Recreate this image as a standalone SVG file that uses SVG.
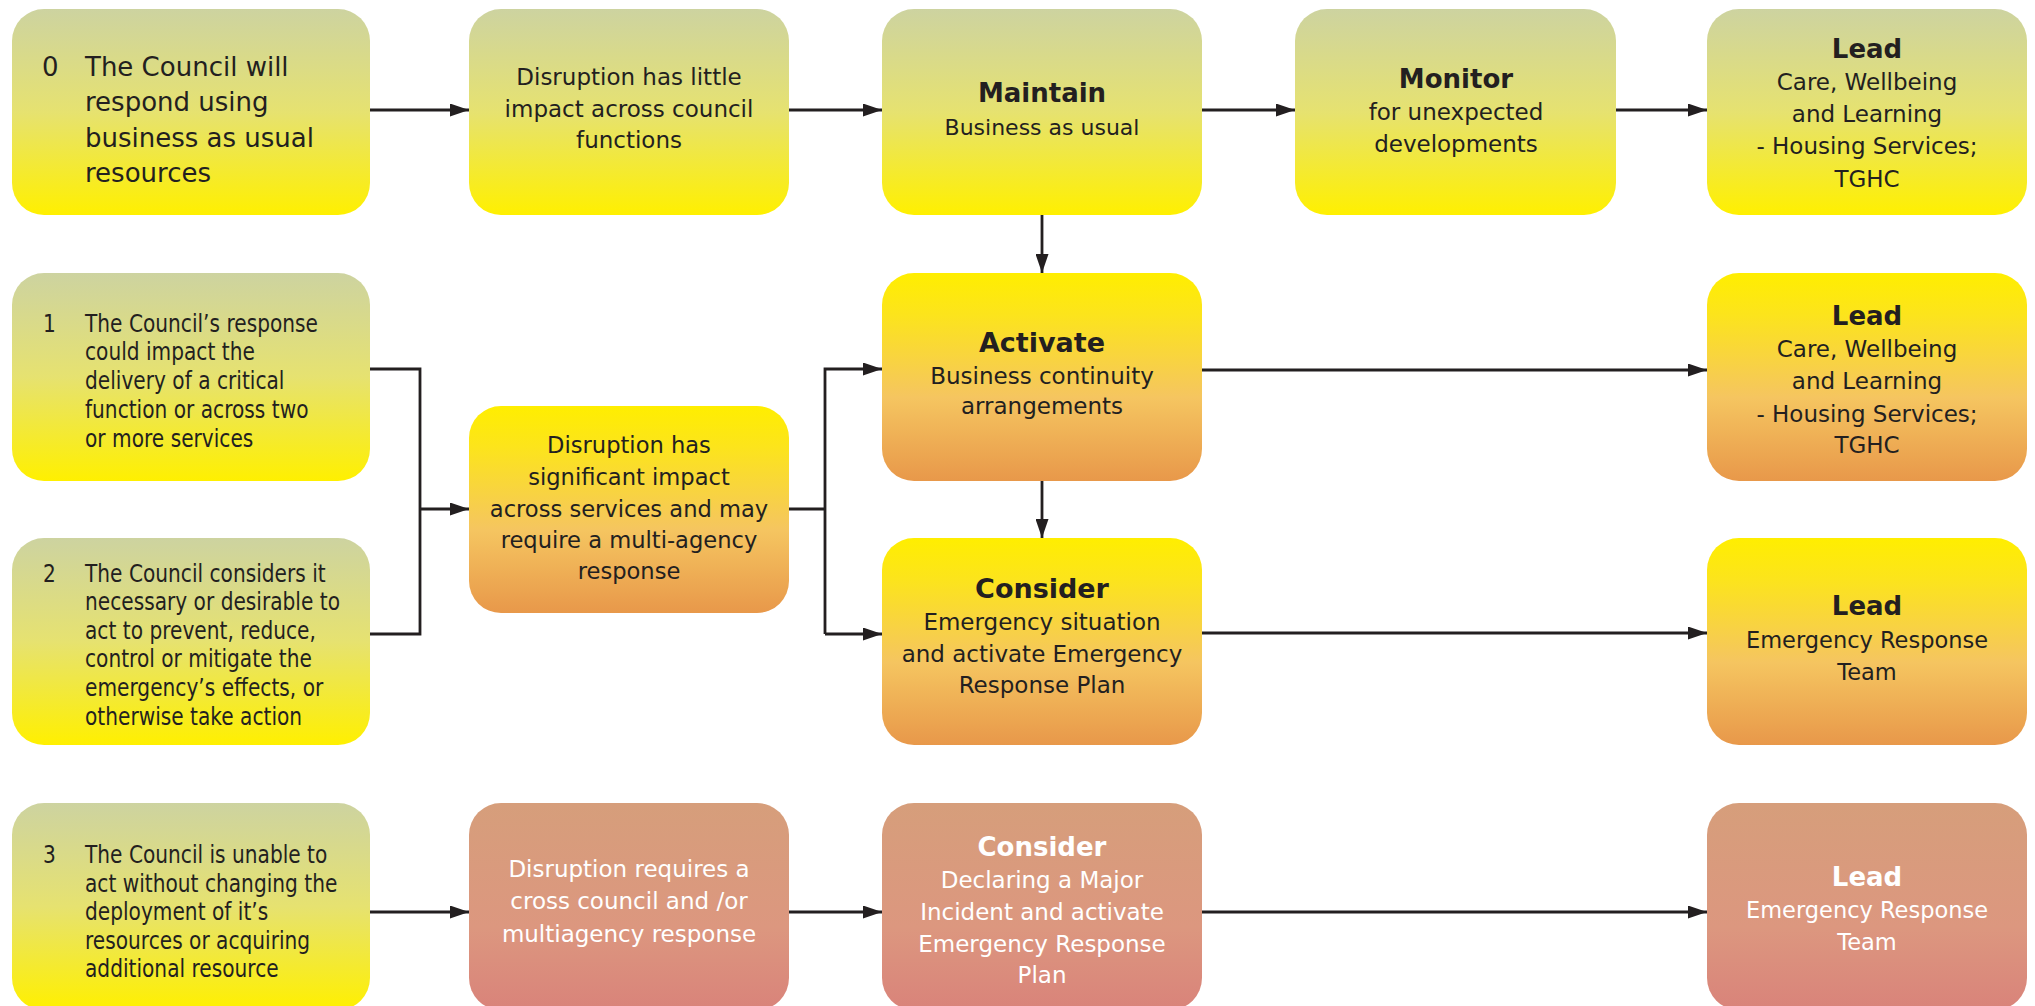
<svg xmlns="http://www.w3.org/2000/svg" width="2035" height="1006" viewBox="0 0 2035 1006">
<style>
.t{font-family:"DejaVu Sans","Liberation Sans",sans-serif;fill:#231F20}
.w{fill:#FFFFFF}
.b{font-weight:bold}
.c{text-anchor:middle}
.ln{stroke:#231F20;stroke-width:2.8;fill:none}
.box{stroke:none}
</style>
<defs>
<linearGradient id="gG" x1="0" y1="0" x2="0" y2="1">
<stop offset="0" stop-color="#CDD3A0"/>
<stop offset="0.5" stop-color="#E6E270"/>
<stop offset="1" stop-color="#FFF000"/>
</linearGradient>
<linearGradient id="gO" x1="0" y1="0" x2="0" y2="1">
<stop offset="0" stop-color="#FFEE00"/>
<stop offset="0.2" stop-color="#FCE41C"/>
<stop offset="0.6" stop-color="#F5C560"/>
<stop offset="1" stop-color="#E8984A"/>
</linearGradient>
<linearGradient id="gP" x1="0" y1="0" x2="0" y2="1">
<stop offset="0" stop-color="#D69E7B"/>
<stop offset="0.6" stop-color="#DC977F"/>
<stop offset="1" stop-color="#D9837A"/>
</linearGradient>
<marker id="ar" markerUnits="userSpaceOnUse" markerWidth="19" markerHeight="13" refX="19" refY="6.5" orient="auto">
<path d="M0,0 L19,6.5 L0,13 z" fill="#231F20"/>
</marker>
</defs>

<g id="connectors">
<path class="ln" d="M370,110 H469" marker-end="url(#ar)"/>
<path class="ln" d="M789,110 H882" marker-end="url(#ar)"/>
<path class="ln" d="M1202,110 H1295" marker-end="url(#ar)"/>
<path class="ln" d="M1616,110 H1707" marker-end="url(#ar)"/>
<path class="ln" d="M1042,215 V273" marker-end="url(#ar)"/>
<path class="ln" d="M370,369 H420 V634 H370"/>
<path class="ln" d="M420,509 H469" marker-end="url(#ar)"/>
<path class="ln" d="M789,509 H825"/>
<path class="ln" d="M825,634 V369 H882" marker-end="url(#ar)"/>
<path class="ln" d="M825,634 H882" marker-end="url(#ar)"/>
<path class="ln" d="M1202,370 H1707" marker-end="url(#ar)"/>
<path class="ln" d="M1042,481 V538" marker-end="url(#ar)"/>
<path class="ln" d="M1202,633 H1707" marker-end="url(#ar)"/>
<path class="ln" d="M370,912 H469" marker-end="url(#ar)"/>
<path class="ln" d="M789,912 H882" marker-end="url(#ar)"/>
<path class="ln" d="M1202,912 H1707" marker-end="url(#ar)"/>
</g>

<g id="n-level0">
<rect class="box" x="12" y="9" width="358" height="206" rx="32" fill="url(#gG)"/>
<text class="t" font-size="26" x="42" y="76">0</text>
<text class="t" font-size="26" x="85" y="76">The Council will</text>
<text class="t" font-size="26" x="85" y="111">respond using</text>
<text class="t" font-size="26" x="85" y="147">business as usual</text>
<text class="t" font-size="26" x="85" y="182">resources</text>
</g>

<g id="n-little">
<rect class="box" x="469" y="9" width="320" height="206" rx="32" fill="url(#gG)"/>
<text class="t c" font-size="23" x="629" y="85">Disruption has little</text>
<text class="t c" font-size="23" x="629" y="117">impact across council</text>
<text class="t c" font-size="23" x="629" y="148">functions</text>
</g>

<g id="n-maintain">
<rect class="box" x="882" y="9" width="320" height="206" rx="32" fill="url(#gG)"/>
<text class="t c b" font-size="26" x="1042" y="102">Maintain</text>
<text class="t c" font-size="22" x="1042" y="135">Business as usual</text>
</g>

<g id="n-monitor">
<rect class="box" x="1295" y="9" width="321" height="206" rx="32" fill="url(#gG)"/>
<text class="t c b" font-size="26" x="1456" y="88">Monitor</text>
<text class="t c" font-size="23" x="1456" y="120">for unexpected</text>
<text class="t c" font-size="23" x="1456" y="152">developments</text>
</g>

<g id="n-lead0">
<rect class="box" x="1707" y="9" width="320" height="206" rx="32" fill="url(#gG)"/>
<text class="t c b" font-size="26" x="1867" y="58">Lead</text>
<text class="t c" font-size="23" x="1867" y="90">Care, Wellbeing</text>
<text class="t c" font-size="23" x="1867" y="122">and Learning</text>
<text class="t c" font-size="23" x="1867" y="154">- Housing Services;</text>
<text class="t c" font-size="23" x="1867" y="187">TGHC</text>
</g>

<g id="n-level1">
<rect class="box" x="12" y="273" width="358" height="208" rx="32" fill="url(#gG)"/>
<g transform="translate(85 0) scale(0.84 1)">
<text class="t" font-size="24" x="-50" y="332">1</text>
<text class="t" font-size="24" x="0" y="332">The Council’s response</text>
<text class="t" font-size="24" x="0" y="360">could impact the</text>
<text class="t" font-size="24" x="0" y="389">delivery of a critical</text>
<text class="t" font-size="24" x="0" y="418">function or across two</text>
<text class="t" font-size="24" x="0" y="447">or more services</text>
</g>
</g>

<g id="n-level2">
<rect class="box" x="12" y="538" width="358" height="207" rx="32" fill="url(#gG)"/>
<g transform="translate(85 0) scale(0.84 1)">
<text class="t" font-size="24" x="-50" y="582">2</text>
<text class="t" font-size="24" x="0" y="582">The Council considers it</text>
<text class="t" font-size="24" x="0" y="610">necessary or desirable to</text>
<text class="t" font-size="24" x="0" y="639">act to prevent, reduce,</text>
<text class="t" font-size="24" x="0" y="667">control or mitigate the</text>
<text class="t" font-size="24" x="0" y="696">emergency’s effects, or</text>
<text class="t" font-size="24" x="0" y="725">otherwise take action</text>
</g>
</g>

<g id="n-significant">
<rect class="box" x="469" y="406" width="320" height="207" rx="32" fill="url(#gO)"/>
<text class="t c" font-size="22.6" x="629" y="453">Disruption has</text>
<text class="t c" font-size="22.6" x="629" y="485">significant impact</text>
<text class="t c" font-size="22.6" x="629" y="517">across services and may</text>
<text class="t c" font-size="22.6" x="629" y="548">require a multi-agency</text>
<text class="t c" font-size="22.6" x="629" y="579">response</text>
</g>

<g id="n-activate">
<rect class="box" x="882" y="273" width="320" height="208" rx="32" fill="url(#gO)"/>
<text class="t c b" font-size="27" x="1042" y="352">Activate</text>
<text class="t c" font-size="23" x="1042" y="384">Business continuity</text>
<text class="t c" font-size="23" x="1042" y="414">arrangements</text>
</g>

<g id="n-lead1">
<rect class="box" x="1707" y="273" width="320" height="208" rx="32" fill="url(#gO)"/>
<text class="t c b" font-size="26" x="1867" y="325">Lead</text>
<text class="t c" font-size="23" x="1867" y="357">Care, Wellbeing</text>
<text class="t c" font-size="23" x="1867" y="389">and Learning</text>
<text class="t c" font-size="23" x="1867" y="422">- Housing Services;</text>
<text class="t c" font-size="23" x="1867" y="453">TGHC</text>
</g>

<g id="n-consider1">
<rect class="box" x="882" y="538" width="320" height="207" rx="32" fill="url(#gO)"/>
<text class="t c b" font-size="27" x="1042" y="598">Consider</text>
<text class="t c" font-size="23" x="1042" y="630">Emergency situation</text>
<text class="t c" font-size="23" x="1042" y="662">and activate Emergency</text>
<text class="t c" font-size="23" x="1042" y="693">Response Plan</text>
</g>

<g id="n-lead2">
<rect class="box" x="1707" y="538" width="320" height="207" rx="32" fill="url(#gO)"/>
<text class="t c b" font-size="26" x="1867" y="615">Lead</text>
<text class="t c" font-size="22.5" x="1867" y="648">Emergency Response</text>
<text class="t c" font-size="22.5" x="1867" y="680">Team</text>
</g>

<g id="n-level3">
<rect class="box" x="12" y="803" width="358" height="207" rx="32" fill="url(#gG)"/>
<g transform="translate(85 0) scale(0.84 1)">
<text class="t" font-size="24" x="-50" y="863">3</text>
<text class="t" font-size="24" x="0" y="863">The Council is unable to</text>
<text class="t" font-size="24" x="0" y="892">act without changing the</text>
<text class="t" font-size="24" x="0" y="920">deployment of it’s</text>
<text class="t" font-size="24" x="0" y="949">resources or acquiring</text>
<text class="t" font-size="24" x="0" y="977">additional resource</text>
</g>
</g>

<g id="n-cross">
<rect class="box" x="469" y="803" width="320" height="207" rx="32" fill="url(#gP)"/>
<text class="t c w" font-size="23" x="629" y="877">Disruption requires a</text>
<text class="t c w" font-size="23" x="629" y="909">cross council and /or</text>
<text class="t c w" font-size="23" x="629" y="942">multiagency response</text>
</g>

<g id="n-consider2">
<rect class="box" x="882" y="803" width="320" height="207" rx="32" fill="url(#gP)"/>
<text class="t c b w" font-size="26" x="1042" y="856">Consider</text>
<text class="t c w" font-size="23" x="1042" y="888">Declaring a Major</text>
<text class="t c w" font-size="23" x="1042" y="920">Incident and activate</text>
<text class="t c w" font-size="23" x="1042" y="952">Emergency Response</text>
<text class="t c w" font-size="23" x="1042" y="983">Plan</text>
</g>

<g id="n-lead3">
<rect class="box" x="1707" y="803" width="320" height="207" rx="32" fill="url(#gP)"/>
<text class="t c b w" font-size="26" x="1867" y="886">Lead</text>
<text class="t c w" font-size="22.5" x="1867" y="918">Emergency Response</text>
<text class="t c w" font-size="22.5" x="1867" y="950">Team</text>
</g>
</svg>
